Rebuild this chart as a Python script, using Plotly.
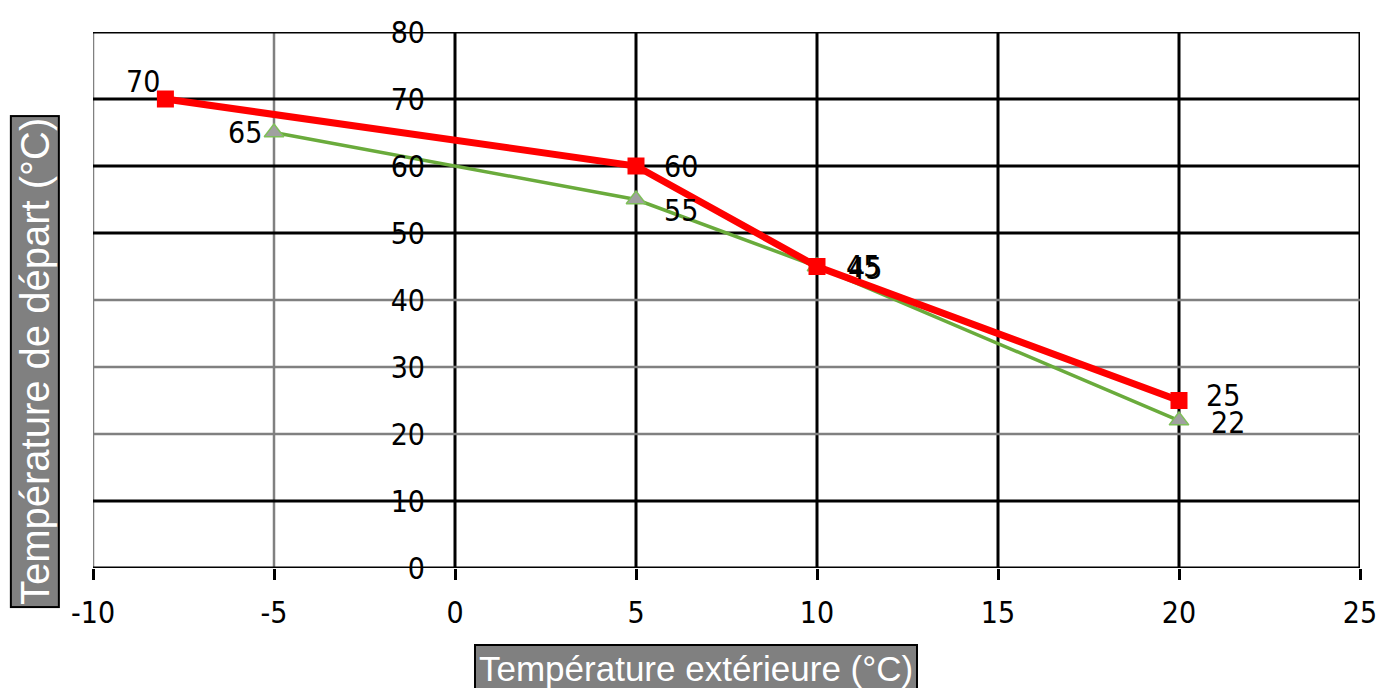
import plotly.graph_objects as go

# Data
x_red = [-8, 5, 10, 20]
y_red = [70, 60, 45, 25]
x_green = [-5, 5, 10, 20]
y_green = [65, 55, 45, 22]

x_ticks = [-10, -5, 0, 5, 10, 15, 20, 25]
y_ticks = [0, 10, 20, 30, 40, 50, 60, 70, 80]
x_grid_colors = ["#808080", "#808080", "black", "black", "black", "black", "black", "black"]
y_grid_colors = ["black", "black", "#808080", "#808080", "#808080", "black", "black", "black", "black"]

x_title = "Température extérieure (°C)"
y_title = "Température de départ (°C)"

# label offsets (style): (xanchor, xshift, yshift)
red_label_style = [("right", -3, 18), ("left", 26, 0), ("left", 29, -2), ("left", 25, 5)]
green_label_style = [("right", -10, 0), ("left", 26, -11), ("left", 27, 0), ("left", 30, -2)]

TICK_FONT = dict(family="Liberation Sans Narrow, Arial Narrow, DejaVu Sans Condensed, sans-serif", size=30, color="black")

fig = go.Figure()

fig.add_trace(go.Scatter(
    x=x_green, y=y_green, mode="lines+markers",
    line=dict(color="#6aab3c", width=3.5),
    marker=dict(symbol="triangle-up", size=17, color="#a0a0a0", line=dict(color="#7fbf5a", width=1.5)),
    showlegend=False, hoverinfo="x+y",
))
fig.add_trace(go.Scatter(
    x=x_red, y=y_red, mode="lines+markers",
    line=dict(color="#ff0000", width=7),
    marker=dict(symbol="square", size=17, color="#ff0000"),
    showlegend=False, hoverinfo="x+y",
))

shapes = []
for v, c in zip(x_ticks, x_grid_colors):
    shapes.append(dict(type="line", xref="x", yref="y", x0=v, x1=v, y0=y_ticks[0], y1=y_ticks[-1],
                       line=dict(color=c, width=3 if c == "black" else 2.5), layer="between"))
for v, c in zip(y_ticks, y_grid_colors):
    shapes.append(dict(type="line", xref="x", yref="y", x0=x_ticks[0], x1=x_ticks[-1], y0=v, y1=v,
                       line=dict(color=c, width=3 if c == "black" else 2.5), layer="between"))

annotations = []
for xv, yv, (anc, xs, ys) in zip(x_red, y_red, red_label_style):
    annotations.append(dict(x=xv, y=yv, xref="x", yref="y", text=str(yv), showarrow=False,
                            xanchor=anc, yanchor="middle", xshift=xs, yshift=ys, font=TICK_FONT))
for xv, yv, (anc, xs, ys) in zip(x_green, y_green, green_label_style):
    annotations.append(dict(x=xv, y=yv, xref="x", yref="y", text=str(yv), showarrow=False,
                            xanchor=anc, yanchor="middle", xshift=xs, yshift=ys, font=TICK_FONT))

annotations.append(dict(x=0.476, y=-0.188, xref="paper", yref="paper", text=x_title, showarrow=False,
                        xanchor="center", yanchor="middle",
                        font=dict(family="Liberation Sans, Arial, sans-serif", size=35, color="white"),
                        bgcolor="#808080", bordercolor="black", borderwidth=2, borderpad=3))
annotations.append(dict(x=-0.0458, y=0.386, xref="paper", yref="paper", text=y_title, showarrow=False,
                        textangle=-90, xanchor="center", yanchor="middle",
                        font=dict(family="Liberation Sans, Arial, sans-serif", size=40, color="white"),
                        bgcolor="#808080", bordercolor="black", borderwidth=2, borderpad=1))

fig.update_layout(
    width=1378, height=688,
    margin=dict(l=93, r=18, t=32, b=120, autoexpand=False),
    plot_bgcolor="white", paper_bgcolor="white",
    shapes=shapes, annotations=annotations,
    xaxis=dict(range=[x_ticks[0], x_ticks[-1]], tickvals=x_ticks, ticktext=[str(v) for v in x_ticks],
               showgrid=False, zeroline=False, showline=False, automargin=False,
               ticks="outside", ticklen=11, tickwidth=3, tickcolor="black",
               tickfont=TICK_FONT, ticklabelstandoff=7),
    yaxis=dict(range=[y_ticks[0], y_ticks[-1]], tickvals=y_ticks, ticktext=[str(v) for v in y_ticks],
               showgrid=False, zeroline=False, showline=False, ticks="", automargin=False,
               anchor="free", position=(0 - x_ticks[0]) / (x_ticks[-1] - x_ticks[0]),
               tickfont=TICK_FONT, ticklabelstandoff=30),
)

fig.write_html("out.html", config={"displayModeBar": False},
               post_script="document.body.style.margin='0';document.body.style.overflow='hidden';")
